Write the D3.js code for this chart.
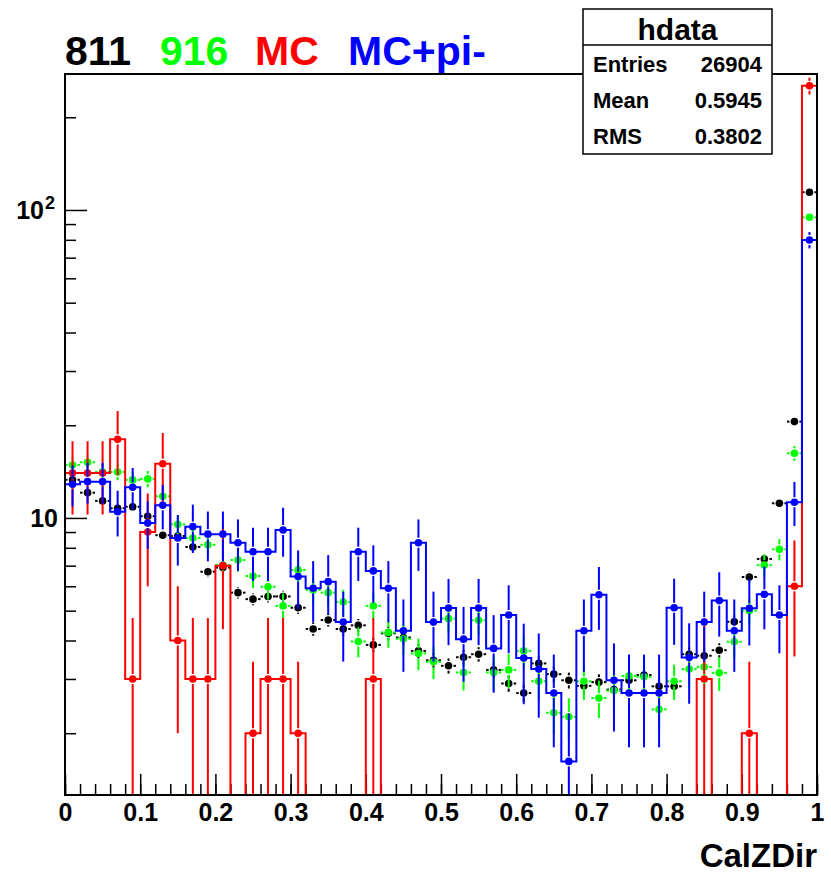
<!DOCTYPE html>
<html>
<head>
<meta charset="utf-8">
<script src="https://cdn.jsdelivr.net/npm/d3@7/dist/d3.min.js"></script>
<style>
  body { margin: 0; background: #fff; }
  text { font-family: 'Liberation Sans', Arial, Helvetica, sans-serif; font-weight: bold; }
</style>
</head>
<body>
<div id="target"></div>
<script>
const width = 831;
const height = 873;

// histogram binning: 50 bins of CalZDir between 0 and 1
const nBins = 50;
const xLow = 0;
const xHigh = 1;
const yLow = 1.26;
const yHigh = 276.4;

// bin contents
const data811 = [
  13.3, 12.08, 11.36, 10.75, 10.87, 10.13, 8.79, 8.74, 8.05, 6.69,
  6.9, 5.72, 5.45, 5.56, 5.56, 5.11, 4.36, 4.66, 4.36, 4.48,
  3.87, 4.22, 4.09, 3.7, 3.45, 3.31, 3.53, 3.61, 3.21, 2.9,
  2.7, 3.37, 3.11, 2.97, 2.85, 2.93, 2.77, 2.97, 3.09, 2.84,
  2.84, 3.61, 3.57, 3.72, 4.6, 6.43, 7.36, 11.16, 20.55, 114.2,
];
const data916 = [
  14.86, 15.16, 14.1, 14.1, 13.29, 13.39, 11.76, 9.53, 8.61, 8.18,
  7.03, 7.3, 6.48, 5.98, 5.18, 6.78, 5.84, 5.72, 5.33, 3.97,
  5.18, 4.25, 4.05, 3.63, 3.41, 4.71, 3.15, 4.65, 3.15, 3.21,
  3.7, 2.95, 2.33, 2.26, 2.95, 2.6, 2.75, 3.07, 3.05, 2.39,
  2.95, 3.23, 3.28, 3.14, 3.96, 5.0, 7.03, 7.91, 16.22, 94.7,
];
const dataMC = [
  14, 14, 14, 18, 3, 9, 15, 4, 3, 3,
  7, 0, 2, 3, 3, 2, 0, 0, 0, 0,
  3, 0, 0, 0, 0, 0, 0, 0, 0, 0,
  0, 0, 0, 0, 0, 0, 0, 0, 0, 0,
  0, 0, 3, 0, 0, 2, 0, 0, 6, 253,
];
const dataMCpi = [
  12.86, 13.12, 13.12, 10.48, 12.58, 9.63, 10.99, 8.61, 9.37, 8.86,
  8.86, 8.31, 7.77, 7.77, 9.14, 6.45, 5.91, 6.21, 4.59, 7.77,
  6.73, 5.91, 4.3, 8.31, 4.59, 5.1, 4.04, 5.1, 3.77, 4.84,
  3.51, 3.23, 2.7, 1.62, 4.3, 5.63, 2.97, 2.7, 2.7, 2.7,
  5.11, 3.52, 4.59, 5.39, 4.3, 5.09, 5.65, 4.84, 11.25, 79.9,
];

// per-entry weight of each histogram (error = sqrt(content * weight))
const errWeights = [0.0105, 0.05, 1.0, 0.3];
const seriesNames = ['811', '916', 'MC', 'MC+pi-'];
const seriesColors = ['#000000', '#00ff00', '#ff0000', '#0000ff'];
const seriesIsHist = [false, false, true, true];

const xTicks = [0, 0.1, 0.2, 0.3, 0.4, 0.5, 0.6, 0.7, 0.8, 0.9, 1];
const xTickLabels = ['0', '0.1', '0.2', '0.3', '0.4', '0.5', '0.6', '0.7', '0.8', '0.9', '1'];
const yMajorTicks = [10, 100];
const yMinorTicks = [2, 3, 4, 5, 6, 7, 8, 9, 20, 30, 40, 50, 60, 70, 80, 90, 200];

const statsTitle = 'hdata';
const statsNames = ['Entries', 'Mean', 'RMS'];
const statsValues = ['26904', '0.5945', '0.3802'];

const frame = { left: 65, right: 817, top: 74, bottom: 795 };

const svg = d3.select('#target').append('svg').attr('width', width).attr('height', height);

const x = d3.scaleLinear().domain([xLow, xHigh]).range([frame.left, frame.right]);
const y = d3.scaleLog().domain([yLow, yHigh]).range([frame.bottom, frame.top]);

const binWidth = (xHigh - xLow) / nBins;

function binEdge(i) {
  return xLow + i * binWidth;
}

function yPos(v) {
  if (v <= yLow) return frame.bottom;
  return y(Math.min(v, yHigh));
}

// x axis ticks (inside the frame)
const xMinor = d3.range(nBins + 1).map(binEdge);
svg.append('g')
  .attr('transform', 'translate(0,' + frame.bottom + ')')
  .call(d3.axisBottom(x).tickValues(xMinor).tickSize(-11).tickFormat(''))
  .call(function (g) { g.select('.domain').remove(); });

svg.append('g')
  .attr('class', 'xaxis')
  .attr('transform', 'translate(0,' + frame.bottom + ')')
  .call(d3.axisBottom(x).tickValues(xTicks).tickSize(-21).tickPadding(8)
    .tickFormat(function (d, i) { return xTickLabels[i]; }))
  .call(function (g) { g.select('.domain').remove(); });

svg.selectAll('.xaxis text')
  .attr('font-size', 25)
  .attr('font-family', "'Liberation Sans', Arial, sans-serif")
  .attr('font-weight', 'bold')
  .attr('fill', '#000');

// y axis ticks
svg.append('g')
  .attr('transform', 'translate(' + frame.left + ',0)')
  .call(d3.axisLeft(y).tickValues(yMinorTicks).tickSize(-11).tickFormat(''))
  .call(function (g) { g.select('.domain').remove(); });

svg.append('g')
  .attr('transform', 'translate(' + frame.left + ',0)')
  .call(d3.axisLeft(y).tickValues(yMajorTicks).tickSize(-22).tickFormat(''))
  .call(function (g) { g.select('.domain').remove(); });

svg.selectAll('.tick line').attr('stroke', '#000').attr('stroke-width', 1.5);

// y labels: 10 and 10^2
svg.append('text')
  .attr('x', frame.left - 7)
  .attr('y', y(10) + 9)
  .attr('text-anchor', 'end')
  .attr('font-size', 25)
  .text('10');

svg.append('text')
  .attr('x', frame.left - 21)
  .attr('y', y(100) + 9)
  .attr('text-anchor', 'end')
  .attr('font-size', 25)
  .text('10');
svg.append('text')
  .attr('x', frame.left - 20)
  .attr('y', y(100) - 1)
  .attr('font-size', 18)
  .text('2');

// series
const allData = [data811, data916, dataMC, dataMCpi];
const markerR = 3.8;
const gap = 5;

allData.forEach(function (values, s) {
  const color = seriesColors[s];
  const g = svg.append('g').attr('class', 'series-' + s);

  if (seriesIsHist[s]) {
    const pts = [];
    values.forEach(function (v, i) {
      pts.push([x(binEdge(i)), yPos(v)]);
      pts.push([x(binEdge(i + 1)), yPos(v)]);
    });
    g.append('path')
      .attr('d', d3.line()(pts))
      .attr('fill', 'none')
      .attr('stroke', color)
      .attr('stroke-width', 2);
  }

  const points = values
    .map(function (v, i) {
      return { i: i, v: v, e: Math.sqrt(v * errWeights[s]) };
    })
    .filter(function (d) { return d.v > 0; });

  const segs = [];
  points.forEach(function (d) {
    const xc = x(binEdge(d.i) + binWidth / 2);
    const yc = yPos(d.v);
    const yTop = yPos(d.v + d.e);
    const yBot = yPos(d.v - d.e);
    if (yc - gap > yTop) segs.push([xc, yTop, xc, yc - gap]);
    if (yBot > yc + gap) segs.push([xc, yc + gap, xc, yBot]);
    if (!seriesIsHist[s]) {
      segs.push([x(binEdge(d.i)), yc, xc - gap, yc]);
      segs.push([xc + gap, yc, x(binEdge(d.i + 1)), yc]);
    }
  });

  g.selectAll('.err')
    .data(segs)
    .enter()
    .append('line')
    .attr('class', 'err')
    .attr('x1', function (d) { return d[0]; })
    .attr('y1', function (d) { return d[1]; })
    .attr('x2', function (d) { return d[2]; })
    .attr('y2', function (d) { return d[3]; })
    .attr('stroke', color)
    .attr('stroke-width', 2);

  g.selectAll('.pt')
    .data(points)
    .enter()
    .append('circle')
    .attr('class', 'pt')
    .attr('cx', function (d) { return x(binEdge(d.i) + binWidth / 2); })
    .attr('cy', function (d) { return yPos(d.v); })
    .attr('r', markerR)
    .attr('fill', color);
});

// frame
svg.append('rect')
  .attr('x', frame.left)
  .attr('y', frame.top)
  .attr('width', frame.right - frame.left)
  .attr('height', frame.bottom - frame.top)
  .attr('fill', 'none')
  .attr('stroke', '#000')
  .attr('stroke-width', 2);

// title made of the four sample names
const titleX = [65, 160, 255, 348];
seriesNames.forEach(function (name, s) {
  svg.append('text')
    .attr('x', titleX[s])
    .attr('y', 65)
    .attr('font-size', 41)
    .attr('fill', seriesColors[s])
    .text(name);
});

// axis title
svg.append('text')
  .attr('x', frame.right)
  .attr('y', 867)
  .attr('text-anchor', 'end')
  .attr('font-size', 33)
  .text('CalZDir');

// stats box
const box = { x: 583, y: 9, w: 189, h: 145 };
svg.append('rect')
  .attr('x', box.x)
  .attr('y', box.y)
  .attr('width', box.w)
  .attr('height', box.h)
  .attr('fill', '#fff')
  .attr('stroke', '#000')
  .attr('stroke-width', 1.5);
svg.append('line')
  .attr('x1', box.x)
  .attr('x2', box.x + box.w)
  .attr('y1', 45)
  .attr('y2', 45)
  .attr('stroke', '#000')
  .attr('stroke-width', 1.5);
svg.append('text')
  .attr('x', box.x + box.w / 2)
  .attr('y', 40)
  .attr('text-anchor', 'middle')
  .attr('font-size', 30)
  .text(statsTitle);
statsNames.forEach(function (name, i) {
  svg.append('text')
    .attr('x', box.x + 10)
    .attr('y', 72 + i * 36)
    .attr('font-size', 22)
    .text(name);
  svg.append('text')
    .attr('x', box.x + box.w - 10)
    .attr('y', 72 + i * 36)
    .attr('text-anchor', 'end')
    .attr('font-size', 22)
    .text(statsValues[i]);
});
</script>
</body>
</html>
